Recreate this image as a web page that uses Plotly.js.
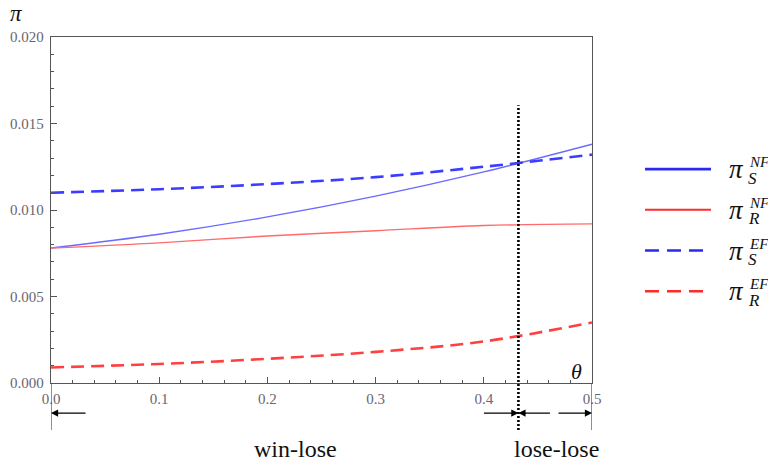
<!DOCTYPE html>
<html>
<head>
<meta charset="utf-8">
<script src="https://cdn.plot.ly/plotly-3.0.1.min.js"></script>
<style>
  html, body { margin: 0; padding: 0; background: #fff; }
  #chart { width: 768px; height: 463px; }
</style>
</head>
<body>
<div id="chart"></div>
<script>
// Profits π against θ for the two scenarios (NF / EF) and two firms (S / R)
const theta   = [0.0, 0.1, 0.2, 0.3, 0.4, 0.5];
const piS_NF  = [0.0078, 0.0086, 0.0096, 0.0108, 0.0122, 0.0138];
const piR_NF  = [0.0078, 0.0081, 0.0085, 0.0088, 0.0091, 0.0092];
const piS_EF  = [0.0110, 0.0112, 0.0115, 0.0119, 0.0125, 0.0132];
const piR_EF  = [0.0009, 0.0011, 0.0014, 0.0018, 0.0024, 0.0035];

// threshold separating the two regions
const thetaStar = 0.432;
const regionLabels = ['win-lose', 'lose-lose'];
const regionCentres = [0.2264, 0.467];

// legend entries: subscript and superscript of π
const legendSub = ['S', 'R', 'S', 'R'];
const legendSup = ['NF', 'NF', 'EF', 'EF'];

const series = [
  {y: piS_NF, color: '#6a6aff', width: 1.4, dash: 'solid', key: '#2a2aee', kw: 2.6},
  {y: piR_NF, color: '#ff6a6a', width: 1.4, dash: 'solid', key: '#ff2a2a', kw: 2.0},
  {y: piS_EF, color: '#3c3cff', width: 2.6, dash: '13px,7px', key: '#2a2aee', kw: 2.6},
  {y: piR_EF, color: '#ff4040', width: 2.6, dash: '13px,7px', key: '#ff2a2a', kw: 2.6}
];

const traces = series.map(s => ({
  x: theta, y: s.y, type: 'scatter', mode: 'lines',
  line: {color: s.color, width: s.width, dash: s.dash, shape: 'spline', smoothing: 1},
  showlegend: false, hoverinfo: 'skip'
}));

const serif = 'Liberation Serif';
const tickFont = {family: serif, size: 15, color: '#6a6470'};

const shapes = [];
const annotations = [];

// dotted threshold line, running past the bottom axis
shapes.push({type: 'line', xref: 'x', yref: 'paper', x0: thetaStar, x1: thetaStar,
  y0: -0.136, y1: 0.803, line: {color: '#000', width: 2.6, dash: '2px,2px'}});
// frame edges extended below the axis
shapes.push({type: 'line', xref: 'x', yref: 'paper', x0: 0, x1: 0, y0: -0.136, y1: 0,
  line: {color: '#444', width: 1.2}});
shapes.push({type: 'line', xref: 'x', yref: 'paper', x0: 0.5, x1: 0.5, y0: -0.136, y1: 0,
  line: {color: '#444', width: 1.2}});

// region arrows under the axis
const arrowY = -0.087;
const arrows = [
  {x: 0, ax: 36},
  {x: thetaStar, ax: -36},
  {x: thetaStar, ax: 33},
  {x: 0.5, ax: -35}
];
arrows.forEach(a => annotations.push({
  x: a.x, y: arrowY, xref: 'x', yref: 'paper', ax: a.ax, ay: 0,
  axref: 'pixel', ayref: 'pixel', showarrow: true, arrowhead: 2,
  arrowsize: 1.1, arrowwidth: 1.3, arrowcolor: '#000', text: ''
}));

regionLabels.forEach((t, i) => annotations.push({
  x: regionCentres[i], y: -0.19, xref: 'x', yref: 'paper', text: t,
  xanchor: 'center', yanchor: 'middle',
  showarrow: false, font: {family: serif, size: 24, color: '#111'}
}));

// axis symbols
annotations.push({x: -0.064, y: 1.068, xref: 'paper', yref: 'paper', text: '<i>π</i>',
  xanchor: 'center', yanchor: 'middle',
  showarrow: false, font: {family: serif, size: 23, color: '#111'}});
annotations.push({x: 0.972, y: 0.033, xref: 'paper', yref: 'paper', text: '<i>θ</i>',
  xanchor: 'center', yanchor: 'middle',
  showarrow: false, font: {family: serif, size: 22, color: '#111'}});

// hand-built legend on the right
const legTop = 0.618, legStep = 0.1176;
series.forEach((s, i) => {
  const yy = legTop - i * legStep;
  shapes.push({type: 'line', xref: 'paper', yref: 'paper', x0: 1.098, x1: 1.22,
    y0: yy, y1: yy, line: {color: s.key, width: s.kw, dash: s.dash === 'solid' ? 'solid' : '14px,8px'}});
  annotations.push({x: 1.2495, y: yy, xref: 'paper', yref: 'paper', text: '<i>π</i>',
    xanchor: 'left', yanchor: 'middle', yshift: 0, showarrow: false,
    font: {family: serif, size: 27, color: '#111'}});
  annotations.push({x: 1.287, y: yy, xref: 'paper', yref: 'paper', text: '<i>' + legendSup[i] + '</i>',
    xanchor: 'left', yanchor: 'middle', yshift: 7, showarrow: false,
    font: {family: serif, size: 15, color: '#111'}});
  annotations.push({x: 1.284, y: yy, xref: 'paper', yref: 'paper', text: '<i>' + legendSub[i] + '</i>',
    xanchor: 'left', yanchor: 'middle', yshift: -9, showarrow: false,
    font: {family: serif, size: 17, color: '#111'}});
});

const layout = {
  width: 768, height: 463,
  margin: {l: 51, r: 176, t: 37, b: 80},
  paper_bgcolor: '#fff', plot_bgcolor: '#fff',
  showlegend: false,
  font: {family: serif},
  xaxis: {
    range: [0, 0.5], dtick: 0.1, tickformat: '.1f',
    showgrid: false, zeroline: false,
    showline: true, mirror: true, linecolor: '#555', linewidth: 1.2,
    ticks: 'inside', ticklen: 6, tickcolor: '#555', tickwidth: 1,
    minor: {dtick: 0.02, ticks: 'inside', ticklen: 3, tickcolor: '#555', showgrid: false},
    tickfont: tickFont, ticklabelstandoff: 2
  },
  yaxis: {
    range: [0, 0.02], dtick: 0.005, tickformat: '.3f',
    showgrid: false, zeroline: false,
    showline: true, mirror: true, linecolor: '#555', linewidth: 1.2,
    ticks: 'inside', ticklen: 6, tickcolor: '#555', tickwidth: 1,
    minor: {dtick: 0.001, ticks: 'inside', ticklen: 3, tickcolor: '#555', showgrid: false},
    tickfont: tickFont, ticklabelstandoff: 3
  },
  shapes: shapes,
  annotations: annotations
};

Plotly.newPlot('chart', traces, layout, {displayModeBar: false, staticPlot: true});
</script>
</body>
</html>
